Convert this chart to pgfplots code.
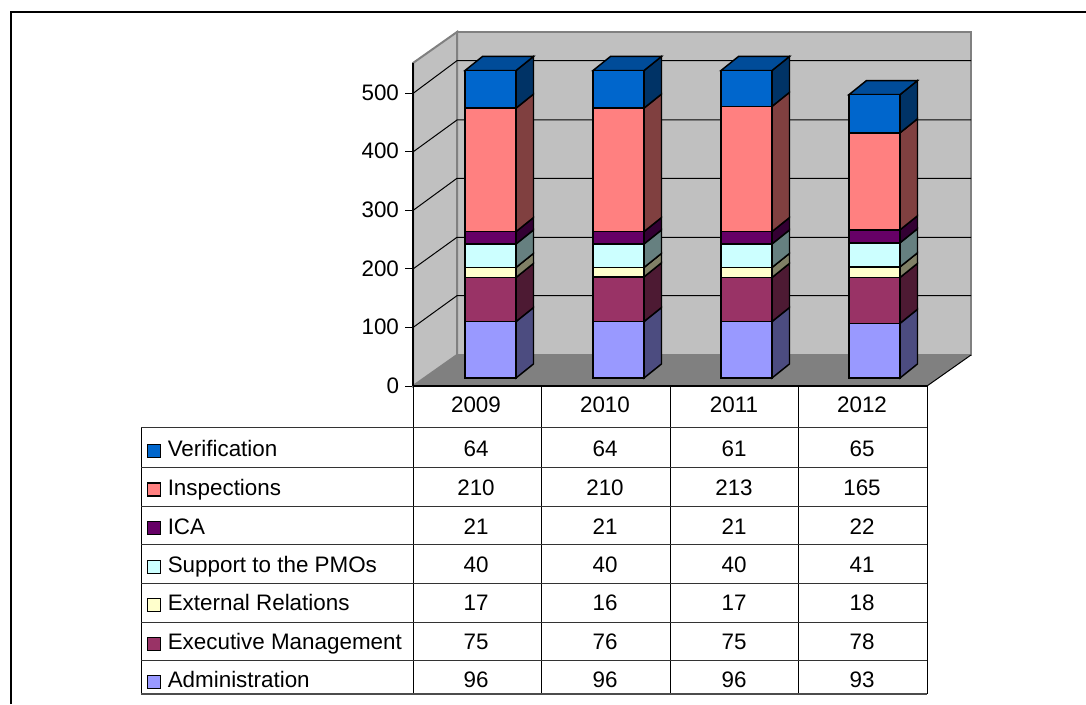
\documentclass[border=0pt]{standalone}
\usepackage{fontspec}
\setmainfont{Liberation Sans}
\usepackage{pgfplots}
\usepackage{pgfplotstable}
\pgfplotsset{compat=1.18}
\pgfplotstableread{
x    Admin Exec Ext Supp ICA Insp Verif
0.5  96    75   17  40   21  210  64
1.5  96    76   16  40   21  210  64
2.5  96    75   17  40   21  213  61
3.5  93    78   18  41   22  165  65
}\staffdata
\definecolor{cAdmin}{HTML}{9999FF}\definecolor{sAdmin}{HTML}{4C4C80}
\definecolor{cExec}{HTML}{993366}\definecolor{sExec}{HTML}{4D1A33}
\definecolor{cExt}{HTML}{FFFFCC}\definecolor{sExt}{HTML}{808066}
\definecolor{cSupp}{HTML}{CCFFFF}\definecolor{sSupp}{HTML}{668080}
\definecolor{cICA}{HTML}{660066}\definecolor{sICA}{HTML}{330033}
\definecolor{cInsp}{HTML}{FF8080}\definecolor{sInsp}{HTML}{804040}
\definecolor{cVerif}{HTML}{0066CC}\definecolor{sVerif}{HTML}{003366}\definecolor{tVerif}{HTML}{004C99}
\definecolor{wall}{HTML}{C0C0C0}\definecolor{floorc}{HTML}{808080}
\newcommand\seg[4]{%
  \pgfmathsetmacro\xa{#1+0.1992}\pgfmathsetmacro\xb{#1+0.3359}%
  \pgfmathsetmacro\yaa{#2+23.9}\pgfmathsetmacro\ybb{#3+23.9}%
  \addplot[fill=#4,draw=black,line width=1.1pt,line join=miter] coordinates {(\xa,#2) (\xb,\yaa) (\xb,\ybb) (\xa,#3)} --cycle;}
\newcommand\topf[2]{%
  \pgfmathsetmacro\xl{#1-0.1992}\pgfmathsetmacro\xa{#1+0.1992}\pgfmathsetmacro\xb{#1+0.3359}\pgfmathsetmacro\xc{#1-0.0625}%
  \pgfmathsetmacro\ybb{#2+23.9}%
  \addplot[fill=tVerif,draw=black,line width=1.1pt,line join=miter] coordinates {(\xl,#2) (\xa,#2) (\xb,\ybb) (\xc,\ybb)} --cycle;}
\newcommand\barside[8]{%
  \seg{#1}{0}{#2}{sAdmin}\seg{#1}{#2}{#3}{sExec}\seg{#1}{#3}{#4}{sExt}\seg{#1}{#4}{#5}{sSupp}%
  \seg{#1}{#5}{#6}{sICA}\seg{#1}{#6}{#7}{sInsp}\seg{#1}{#7}{#8}{sVerif}\topf{#1}{#8}}
\newcommand\grid[2]{%
  \addplot[black,line width=0.75pt] coordinates {(0,#1) (0.3424,#2) (4.3424,#2)};}
\begin{document}
\begin{tikzpicture}
\useasboundingbox (0,0) rectangle (814.5pt,-528pt);
% walls, floor, grid, value axis
\begin{axis}[
  at={(309.75pt,-289.5pt)},anchor=south west,scale only axis,
  width=385.5pt,height=242.25pt,xmin=0,xmax=4,ymin=0,ymax=552,clip=false,
  axis x line=bottom,axis y line=left,
  axis line style={black,line width=1pt,-},
  xtick=\empty,ytick={0,100,200,300,400,500},
  tick align=outside,tick style={black,line width=0.75pt},
  major tick length=6pt,
  /pgf/number format/assume math mode=true,
  tick label style={font=\fontsize{16.8}{19}\selectfont},
  yticklabel style={xshift=-1pt,yshift=0.5pt},
]
\addplot[fill=wall,draw=floorc,line width=1.5pt] coordinates {(0.3424,53) (4.3424,53) (4.3424,605) (0.3424,605)} --cycle;
\addplot[fill=wall,draw=floorc,line width=1.5pt] coordinates {(0,0) (0.3424,53) (0.3424,605) (0,552)} --cycle;
\addplot[fill=floorc,draw=none] coordinates {(0,0) (4,0) (4.3424,53) (0.3424,53)} --cycle;
\addplot[black,line width=0.75pt] coordinates {(4,0) (4.3424,53)};
\grid{100}{154.4}\grid{200}{254.2}\grid{300}{355}\grid{400}{454.6}\grid{500}{556}
\addplot[black,line width=1pt] coordinates {(0,0) (0,552)};
\end{axis}
% side and top faces of the bars
\begin{axis}[
  at={(319.875pt,-283.5pt)},anchor=south west,scale only axis,
  width=384pt,height=243.4pt,xmin=0,xmax=4,ymin=0,ymax=552,clip=false,hide axis]
\barside{0.5}{96}{171}{188}{228}{249}{459}{523}
\barside{1.5}{96}{172}{188}{228}{249}{459}{523}
\barside{2.5}{96}{171}{188}{228}{249}{462}{523}
\barside{3.5}{93}{171}{189}{230}{252}{417}{482}
\end{axis}
% front faces of the bars
\begin{axis}[
  at={(319.875pt,-283.5pt)},anchor=south west,scale only axis,
  width=384pt,height=243.4pt,xmin=0,xmax=4,ymin=0,ymax=552,clip=false,hide axis,
  ybar stacked,bar width=38.25pt,bar shift=0pt]
\addplot[fill=cAdmin,draw=black,line width=1.1pt] table[x=x,y=Admin] {\staffdata};
\addplot[fill=cExec,draw=black,line width=1.1pt] table[x=x,y=Exec] {\staffdata};
\addplot[fill=cExt,draw=black,line width=1.1pt] table[x=x,y=Ext] {\staffdata};
\addplot[fill=cSupp,draw=black,line width=1.1pt] table[x=x,y=Supp] {\staffdata};
\addplot[fill=cICA,draw=black,line width=1.1pt] table[x=x,y=ICA] {\staffdata};
\addplot[fill=cInsp,draw=black,line width=1.1pt] table[x=x,y=Insp] {\staffdata};
\addplot[fill=cVerif,draw=black,line width=1.1pt] table[x=x,y=Verif] {\staffdata};
\end{axis}
% data table and frame
\begin{scope}[x=0.75pt,y=-0.75pt,font=\fontsize{16.8}{19}\selectfont]
\draw[black,line width=1pt] (11,704) -- (11,12) -- (1086,12);
\draw[black,line width=1.3pt] (413,386) -- (927,386);
\draw[black,line width=0.75pt] (413,386) -- (413,427) (927,386) -- (927,694);
\foreach \xx in {541,670,798} \draw[black,line width=0.75pt] (\xx,386) -- (\xx,694);
\draw[black,line width=0.75pt] (413,427) -- (413,694);
\draw[black,line width=0.75pt] (141,427) -- (141,694);
\foreach \yy in {427,467,506,544,583,622,660} \draw[black!80,line width=0.75pt] (141,\yy) -- (927,\yy);
\draw[black!70,line width=1.2pt] (141,694) -- (927,694);
\foreach \xx/\tt in {476/2009,605/2010,734/2011,862/2012}
  \node[inner sep=0pt,anchor=base] at (\xx,412) {\tt};
\newcommand\rowt[8]{%
  \draw[black,line width=0.8pt,fill=#3] (147.5,#1-6.5) rectangle (160.5,#1+6.5);
  \node[inner sep=0pt,anchor=base west] at (167.5,#2) {#4};
  \node[inner sep=0pt,anchor=base] at (476,#2) {#5};
  \node[inner sep=0pt,anchor=base] at (605,#2) {#6};
  \node[inner sep=0pt,anchor=base] at (734,#2) {#7};
  \node[inner sep=0pt,anchor=base] at (862,#2) {#8};}
\rowt{451}{456}{cVerif}{Verification}{64}{64}{61}{65}
\rowt{489.5}{495}{cInsp}{Inspections}{210}{210}{213}{165}
\rowt{528}{534}{cICA}{ICA}{21}{21}{21}{22}
\rowt{567}{572}{cSupp}{Support to the PMOs}{40}{40}{40}{41}
\rowt{605}{610}{cExt}{External Relations}{17}{16}{17}{18}
\rowt{644}{649}{cExec}{Executive Management}{75}{76}{75}{78}
\rowt{682}{687}{cAdmin}{Administration}{96}{96}{96}{93}
\end{scope}
\end{tikzpicture}
\end{document}
